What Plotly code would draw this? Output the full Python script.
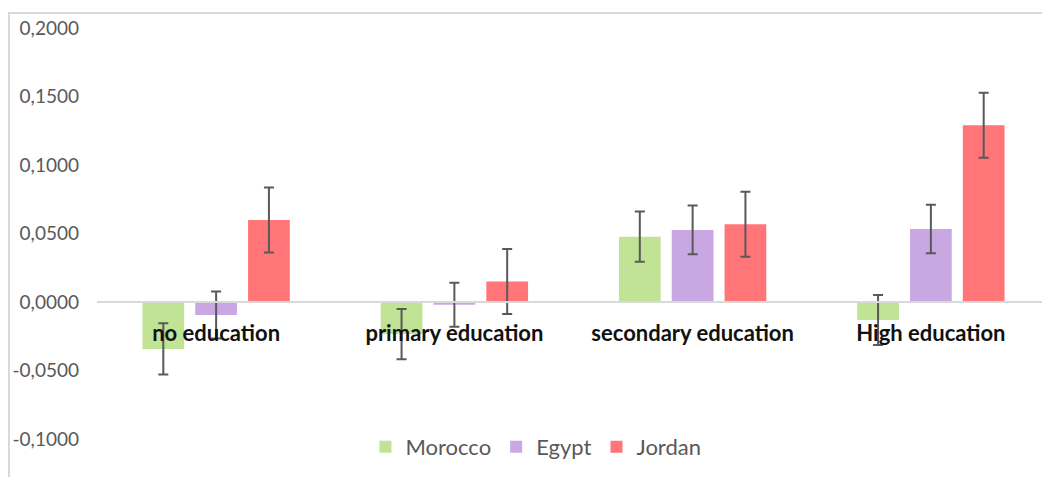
import plotly.graph_objects as go

categories = ["no education", "primary education", "secondary education", "High education"]
series_names = ["Morocco", "Egypt", "Jordan"]
morocco = [-0.0343, -0.0234, 0.0477, -0.0131]
egypt = [-0.0095, -0.0020, 0.0526, 0.0533]
jordan = [0.0599, 0.0150, 0.0567, 0.1290]
morocco_err = [0.0187, 0.0183, 0.0183, 0.0183]
egypt_err = [0.0172, 0.0160, 0.0178, 0.0177]
jordan_err = [0.0237, 0.0237, 0.0237, 0.0237]
y_tickvals = [-0.1, -0.05, 0.0, 0.05, 0.1, 0.15, 0.2]
y_ticktext = ["-0,1000", "-0,0500", "0,0000", "0,0500", "0,1000", "0,1500", "0,2000"]

colors = ["#C0E396", "#C9A7E3", "#FF7578"]
values = [morocco, egypt, jordan]
errs = [morocco_err, egypt_err, jordan_err]

fig = go.Figure()
for name, vals, err, col in zip(series_names, values, errs, colors):
    fig.add_trace(go.Bar(
        x=categories, y=vals, name=name, marker=dict(color=col, line=dict(width=0)),
        error_y=dict(type="data", array=err, visible=True, color="#595959", thickness=2, width=5),
    ))

ymin, ymax = -0.1, 0.2
# page body has an 8px margin, so the figure is offset by (8, 8) in the window
L, T, B = 89, 20, 38
W, H = 1042, 469
pw = W - L
ph = H - T - B
fig.update_layout(
    width=W, height=H,
    margin=dict(l=L, r=0, t=T, b=B),
    plot_bgcolor="white", paper_bgcolor="white",
    barmode="group", bargap=0.335, bargroupgap=0.21,
    font=dict(family="Lato, Open Sans, sans-serif", color="#595959"),
    showlegend=True,
    legend=dict(orientation="h", x=0.4606, xanchor="center", y=-8 / ph, yanchor="middle",
                font=dict(size=22, color="#595959"), bgcolor="rgba(0,0,0,0)",
                itemwidth=30),
    xaxis=dict(anchor="free", position=(0 - ymin) / (ymax - ymin),
               showline=True, linecolor="#D9D9D9", linewidth=1.5,
               showgrid=False, ticks="",
               tickfont=dict(size=22, color="#111111", weight="bold"),
               ticklabelstandoff=12),
    yaxis=dict(range=[ymin, ymax], tickvals=y_tickvals, ticktext=y_ticktext,
               showgrid=False, zeroline=False, showline=False,
               tickfont=dict(size=19, color="#595959"), ticklabelstandoff=17),
    shapes=[dict(type="rect", xref="paper", yref="paper",
                 x0=(1 - L) / pw, x1=1.05, y0=-0.3, y1=1 + 15 / ph,
                 line=dict(color="#D9D9D9", width=2), fillcolor="rgba(0,0,0,0)", layer="below")],
)

fig.write_html("out.html")
